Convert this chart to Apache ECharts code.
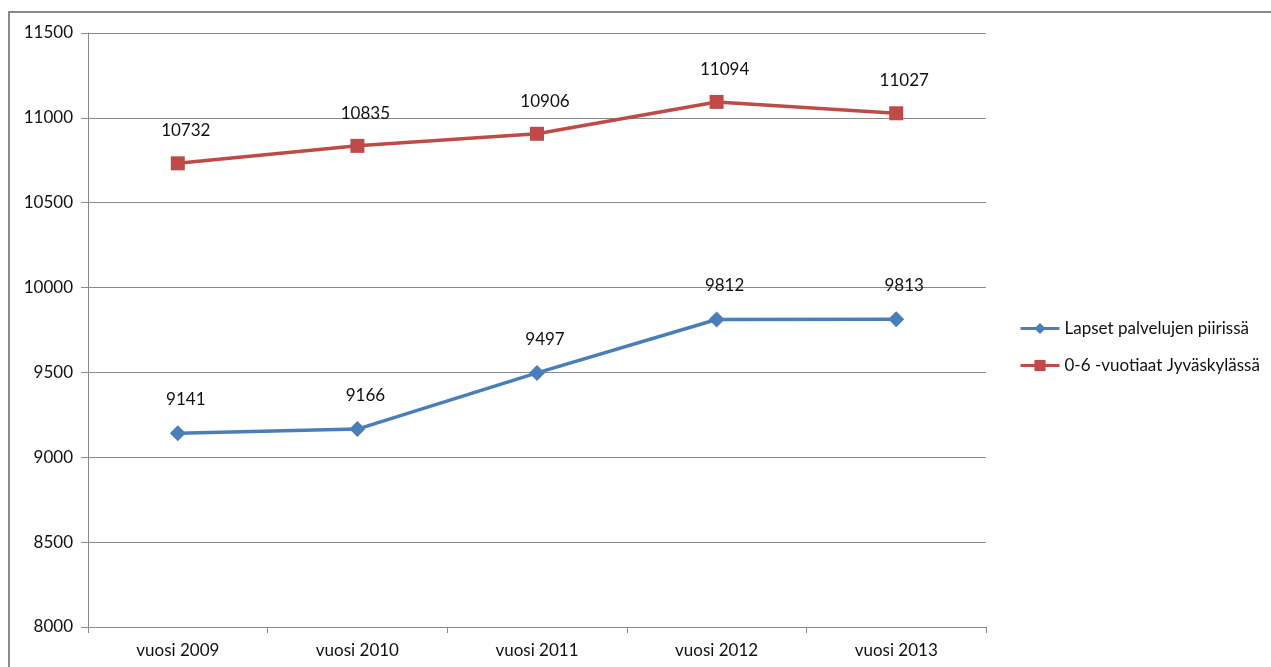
<!DOCTYPE html>
<html>
<head>
<meta charset="utf-8">
<script src="https://cdn.jsdelivr.net/npm/echarts@6/dist/echarts.min.js"></script>
<style>
    html, body { margin: 0; padding: 0; background: #fff; overflow: hidden; }
    #frame { position: absolute; left: 8px; top: 11px; width: 1400px; height: 800px; border: 2px solid #8a8a8a; }
    #main { position: absolute; left: 0; top: 0; width: 1271px; height: 667px; }
</style>
</head>
<body>
<div id="frame"></div>
<div id="main"></div>
<script>
// data
const years = ['vuosi 2009', 'vuosi 2010', 'vuosi 2011', 'vuosi 2012', 'vuosi 2013'];
const lapset = [9141, 9166, 9497, 9812, 9813];
const ikaryhma = [10732, 10835, 10906, 11094, 11027];
const seriesNames = ['Lapset palvelujen piirissä', '0-6 -vuotiaat Jyväskylässä'];

const font = 'Lato, "Open Sans", sans-serif';

let myChart = echarts.init(document.getElementById('main'), null, {renderer: 'canvas'});

function lineSeries(name, data, color, symbol, size) {
    return {
        name: name,
        type: 'line',
        data: data,
        symbol: symbol,
        symbolSize: size,
        color: color,
        lineStyle: {width: 3.5, color: color},
        itemStyle: {color: color},
        label: {
            show: true,
            position: 'top',
            distance: 17,
            offset: [8, 0],
            color: '#111',
            fontSize: 17,
            fontFamily: font
        }
    };
}

let option = {
    animation: false,
    grid: {left: 88, right: 285, top: 33, bottom: 40, containLabel: false},
    legend: {
        orient: 'vertical',
        left: 1014,
        top: 315,
        itemWidth: 39,
        itemHeight: 14,
        itemGap: 20,
        lineStyle: {width: 3},
        data: seriesNames,
        textStyle: {fontSize: 17, color: '#111', fontFamily: font}
    },
    xAxis: {
        type: 'category',
        data: years,
        boundaryGap: true,
        axisLine: {lineStyle: {color: '#8a8a8a', width: 1}},
        axisTick: {show: true, length: 6, lineStyle: {color: '#8a8a8a'}},
        axisLabel: {fontSize: 17, color: '#111', margin: 15, fontFamily: font}
    },
    yAxis: {
        type: 'value',
        min: 8000,
        max: 11500,
        interval: 500,
        axisLine: {show: true, lineStyle: {color: '#8a8a8a', width: 1}},
        axisTick: {show: true, length: 7, lineStyle: {color: '#8a8a8a'}},
        axisLabel: {fontSize: 17, color: '#111', margin: 15, fontFamily: font, formatter: v => String(v)},
        splitLine: {lineStyle: {color: '#8a8a8a', width: 1}}
    },
    series: [
        lineSeries(seriesNames[0], lapset, '#4a7ebb', 'diamond', 16),
        lineSeries(seriesNames[1], ikaryhma, '#be4b48', 'rect', 14)
    ]
};
myChart.setOption(option);
</script>
</body>
</html>
